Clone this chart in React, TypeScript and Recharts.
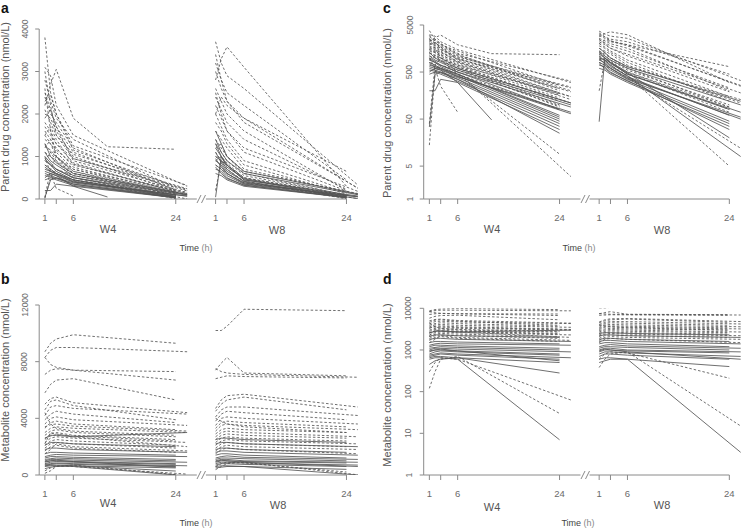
import React from 'react';
import { LineChart, Line, XAxis, YAxis, ReferenceLine } from 'recharts';

const NA = null;
// sampling hours within each visit; W8 is drawn shifted right by W8_OFFSET
const SAMPLE_HOURS = [1, 2, 3, 6, 12, 24, 26];
const W8_OFFSET = 30;
const X_MAX = 56.5;
const X_TICKS = [1, 3, 6, 24, 31, 33, 36, 54];
const X_LABELS: Record<number, string> = { 1: '1', 6: '6', 24: '24', 31: '1', 36: '6', 54: '24' };

const FONT = '"Liberation Sans", Arial, Helvetica, sans-serif';
const AXIS = '#8a8a8a';
const INK = '#555555';

type Row = (number | null)[];

// parent drug, nmol/L
const parentW4Dashed: Row[] = [
  [3800, 2500, 2000, 1250, NA, NA, 320],
  [3100, 2900, 2200, 1500, NA, NA, 300],
  [2200, 2700, 3050, 1900, 1230, 1170, NA],
  [2800, 2300, 1900, 1400, NA, 260, NA],
  [2500, 2100, 1700, 1100, NA, 220, NA],
  [2300, 2450, 2000, 1150, NA, NA, 200],
  [2000, 1900, 1600, 1000, NA, 180, NA],
  [1900, 2100, 1700, 900, NA, NA, 150],
  [1700, 1500, 1300, 850, NA, 160, NA],
  [1500, 1700, 1400, 800, NA, NA, 130],
  [1400, 1300, 1100, 700, NA, 120, NA],
  [1200, 1400, 1200, 750, NA, 140, NA],
  [1100, 1000, 900, 600, NA, 90, NA],
  [2600, 1600, 1000, 650, NA, 100, NA],
  [900, 1100, 1000, 650, NA, NA, 110],
  [800, 700, 600, 450, NA, 80, NA],
  [3000, 2200, 1500, 950, NA, NA, 230],
  [1000, 600, 250, 70, NA, NA, NA],
  [1500, 1300, 1000, 500, NA, NA, 3],
  [1300, 1100, 900, 450, NA, 9, NA],
  [14, 500, 700, 550, NA, 95, NA],
  [40, 700, 1000, 600, NA, NA, 110],
  [2100, 1800, 1500, 1050, NA, NA, 240],
  [2400, 2000, 1800, 1200, NA, 200, NA],
  [1800, 1600, 1300, 950, NA, NA, 190],
  [1250, 1150, 1000, 700, NA, NA, 150],
  [1600, 1400, 1150, 820, NA, 170, NA],
];
const parentW4Solid: Row[] = [
  [900, 800, 700, 500, NA, 80, NA],
  [700, 650, 600, 450, NA, 60, NA],
  [1100, 900, 800, 550, NA, NA, 100],
  [600, 550, 500, 380, NA, 45, NA],
  [800, 700, 600, 420, NA, 50, NA],
  [500, 600, 550, 400, NA, NA, 70],
  [34, 450, 500, 350, NA, 40, NA],
  [650, 600, 550, 300, 48, NA, NA],
  [1000, 850, 700, 500, NA, NA, 90],
  [450, 500, 450, 320, NA, 35, NA],
  [200, 200, 350, 300, NA, 30, NA],
  [750, 650, 580, 400, NA, NA, 65],
  [1300, 1000, 850, 600, NA, NA, 110],
  [550, 520, 480, 350, NA, 25, NA],
  [950, 800, 650, 450, NA, 55, NA],
];
const parentW8Dashed: Row[] = [
  [3700, 3200, 2900, 2600, NA, NA, 330],
  [2800, 3300, 3580, 3100, NA, 300, NA],
  [3400, 2800, 2500, 2200, NA, 450, NA],
  [3000, 2600, 2300, 1900, NA, NA, 250],
  [2600, 2300, 2000, 1600, NA, 200, NA],
  [2400, 2100, 1800, 1400, NA, 230, NA],
  [2200, 1900, 1600, 1200, NA, NA, 180],
  [2000, 2400, 2200, 1900, NA, 650, NA],
  [2000, 1700, 1400, 900, NA, 150, NA],
  [1800, 1600, 1300, 800, NA, 120, NA],
  [1600, 1400, 1200, 700, NA, NA, 110],
  [1400, 1200, 1000, 600, NA, 90, NA],
  [1300, 1100, 900, 550, NA, 100, NA],
  [1200, 1300, 1000, 650, NA, NA, 130],
  [1000, 900, 800, 500, NA, 80, NA],
  [900, 1000, 850, 480, NA, 70, NA],
  [1100, 900, 700, 420, NA, 5, NA],
  [800, 700, 600, 380, NA, NA, 12],
  [2500, 2000, 1600, 1100, NA, 190, NA],
  [200, 900, 800, 500, NA, 90, NA],
  [3200, 2800, 2300, 1800, NA, NA, 260],
];
const parentW8Solid: Row[] = [
  [1400, 1100, 900, 600, NA, NA, 100],
  [1200, 1000, 800, 450, NA, 80, NA],
  [1000, 900, 700, 400, NA, 60, NA],
  [900, 800, 600, 380, NA, NA, 50],
  [800, 700, 550, 350, NA, 45, NA],
  [700, 650, 500, 320, NA, 40, NA],
  [44, 1000, 800, 450, NA, NA, 70],
  [1100, 850, 650, 420, NA, NA, 8],
  [600, 550, 450, 300, NA, 35, NA],
  [1300, 1000, 750, 480, NA, 20, NA],
  [950, 750, 600, 360, NA, NA, 55],
  [750, 600, 480, 330, NA, 30, NA],
  [1600, 1300, 1000, 650, NA, NA, 120],
];

// metabolite, nmol/L
const metabW4Dashed: Row[] = [
  [8700, 9300, 9600, 9900, NA, 9300, NA],
  [8300, 8800, 9000, 9000, NA, NA, 8700],
  [8300, 7800, 7600, 7400, NA, 7300, NA],
  [7100, 7400, 7500, 7400, NA, 6700, NA],
  [5800, 6400, 6700, 6800, NA, 5300, NA],
  [5000, 5400, 5500, 5100, NA, NA, 4400],
  [4600, 5200, 5300, 4900, NA, 3900, NA],
  [4200, 4800, 4900, 4700, NA, NA, 4300],
  [3900, 4300, 4500, 4300, NA, 3700, NA],
  [3600, 4000, 4100, 3900, NA, NA, 3500],
  [3300, 3700, 3800, 3600, NA, 3200, NA],
  [3000, 3300, 3400, 3300, NA, NA, 3000],
  [2800, 3100, 3200, 3000, NA, 2700, NA],
  [2500, 2900, 3000, 2800, NA, 2500, NA],
  [2300, 2600, 2700, 2600, NA, NA, 2300],
  [2100, 2400, 2500, 2400, NA, 2100, NA],
  [1900, 2200, 2300, 2200, NA, 1900, NA],
  [4400, 3600, 3300, 3100, NA, 2800, NA],
  [2200, 3000, 2900, 2700, NA, NA, 2000],
  [120, 300, 600, 700, NA, 30, NA],
  [300, 500, 650, 600, NA, NA, 63],
  [1700, 2000, 2100, 1900, NA, 1600, NA],
  [1500, 1800, 2200, 2000, NA, NA, 1700],
  [2600, 2750, 2850, 2750, NA, 2400, NA],
  [3400, 3550, 3600, 3450, NA, NA, 3100],
];
const metabW4Solid: Row[] = [
  [1500, 1600, 1600, 1550, NA, 1400, NA],
  [1300, 1400, 1450, 1400, NA, NA, 1300],
  [1200, 1300, 1300, 1250, NA, 1100, NA],
  [1100, 1150, 1200, 1150, NA, 1000, NA],
  [1000, 1100, 1100, 1050, NA, NA, 900],
  [900, 1000, 1000, 950, NA, 800, NA],
  [800, 900, 950, 900, NA, 750, NA],
  [750, 800, 850, 800, NA, NA, 650],
  [700, 750, 800, 750, NA, 600, NA],
  [650, 700, 700, 650, NA, 500, NA],
  [600, 650, 650, 600, NA, 7, NA],
  [1800, 1900, 1900, 1800, NA, NA, 1600],
  [2100, 2300, 2300, 2200, NA, 2000, NA],
  [2600, 2800, 2800, 2700, NA, NA, 3000],
  [450, 550, 600, 650, NA, 280, NA],
  [950, 1000, 1050, 950, NA, 550, NA],
];
const metabW8Dashed: Row[] = [
  [10200, 10200, 10500, 11700, NA, 11600, NA],
  [7400, 7900, 8300, 7200, NA, 7000, NA],
  [7500, 7300, 7200, 7100, NA, NA, 6900],
  [6800, 6900, 7000, 6950, NA, 6850, NA],
  [4700, 5300, 5600, 5700, NA, NA, 4800],
  [4500, 5000, 5300, 5500, NA, 4600, NA],
  [4100, 4600, 4800, 4800, NA, NA, 4200],
  [3800, 4300, 4500, 4400, NA, 3900, NA],
  [3500, 4000, 4100, 4000, NA, NA, 3600],
  [3300, 3700, 3800, 3700, NA, 3400, NA],
  [3100, 3500, 3600, 3500, NA, NA, 3200],
  [2900, 3200, 3300, 3200, NA, 3000, NA],
  [2700, 3000, 3100, 3000, NA, NA, 2700],
  [2500, 2800, 2900, 2800, NA, 2600, NA],
  [2300, 2600, 2700, 2600, NA, 2400, NA],
  [2100, 2400, 2500, 2400, NA, NA, 2200],
  [1900, 2200, 2300, 2200, NA, 2000, NA],
  [1700, 2000, 2100, 2000, NA, NA, 1800],
  [380, 600, 800, 900, NA, NA, 15],
  [600, 800, 900, 850, NA, 210, NA],
  [4000, 3800, 3600, 3400, NA, 3000, NA],
  [1500, 1800, 1900, 1800, NA, NA, 1500],
];
const metabW8Solid: Row[] = [
  [1800, 1900, 1900, 1800, NA, 1600, NA],
  [1600, 1700, 1700, 1600, NA, NA, 1400],
  [1400, 1500, 1500, 1400, NA, 1200, NA],
  [1200, 1300, 1350, 1250, NA, NA, 1100],
  [1100, 1200, 1200, 1150, NA, 1000, NA],
  [1000, 1100, 1100, 1000, NA, NA, 900],
  [900, 1000, 1000, 950, NA, 850, NA],
  [800, 900, 900, 850, NA, NA, 700],
  [700, 800, 800, 750, NA, 600, NA],
  [600, 650, 650, 600, NA, NA, 3.5],
  [500, 550, 600, 600, NA, 400, NA],
  [2200, 2300, 2300, 2200, NA, NA, 2000],
  [2500, 2600, 2600, 2500, NA, 2300, NA],
  [950, 1050, 1000, 900, NA, NA, 600],
];

const toPoints = (row: Row, offset: number) =>
  row.flatMap((v, i) => (v == null ? [] : [{ x: SAMPLE_HOURS[i] + offset, y: v }]));

type Spec = {
  left: number;
  top: number;
  width: number;
  height: number;
  plotLeft: number;
  plotTop: number;
  plotBottom: number;
  pxPerHour: number;
  log: boolean;
  domain: [number, number];
  yTicks: number[];
  tickLabelX: number;
  sets: { rows: Row[]; offset: number; dashed: boolean }[];
};

function Panel({ spec }: { spec: Spec }) {
  const { left, top, width, height, plotLeft, plotTop, plotBottom, pxPerHour } = spec;
  const yAxisW = plotLeft - left;
  const plotW = X_MAX * pxPerHour;
  const bottom = plotBottom - top;
  const margin = { top: plotTop - top, left: 0, right: width - yAxisW - plotW, bottom: height - bottom - 30 };
  const yMin = spec.domain[0];

  const series = spec.sets.flatMap((s) => s.rows.map((r) => ({ pts: toPoints(r, s.offset), dashed: s.dashed })));

  return (
    <div style={{ position: 'absolute', left, top }}>
      <LineChart width={width} height={height} margin={margin}>
        <XAxis
          type="number"
          dataKey="x"
          domain={[0, X_MAX]}
          ticks={X_TICKS}
          interval={0}
          allowDataOverflow
          height={30}
          axisLine={false}
          tickSize={5}
          tickLine={{ stroke: AXIS }}
          tick={(p: any) => (
            <text x={p.x} y={bottom + 22} textAnchor="middle" fontSize={9.5} fill="#6a6a6a" fontFamily={FONT}>
              {X_LABELS[p.payload.value] ?? ''}
            </text>
          )}
        />
        <YAxis
          type="number"
          scale={spec.log ? 'log' : 'linear'}
          domain={spec.domain}
          ticks={spec.yTicks}
          interval={0}
          allowDataOverflow
          width={yAxisW}
          tickSize={4}
          axisLine={{ stroke: AXIS }}
          tickLine={{ stroke: AXIS }}
          tick={(p: any) => (
            <text
              x={spec.tickLabelX}
              y={p.y}
              transform={`rotate(-90 ${spec.tickLabelX} ${p.y})`}
              textAnchor="middle"
              fontSize={8.5}
              fill="#6a6a6a"
              fontFamily={FONT}
            >
              {p.payload.value}
            </text>
          )}
        />
        <ReferenceLine segment={[{ x: 0, y: yMin }, { x: 27.7, y: yMin }]} stroke={AXIS} ifOverflow="visible" />
        <ReferenceLine
          segment={[{ x: 29.3, y: yMin }, { x: 24 + W8_OFFSET, y: yMin }]}
          stroke={AXIS}
          ifOverflow="visible"
        />
        {series.map((s, i) => (
          <Line
            key={i}
            data={s.pts}
            dataKey="y"
            type="linear"
            stroke={INK}
            strokeWidth={0.85}
            strokeDasharray={s.dashed ? '2.5 2' : undefined}
            dot={false}
            activeDot={false}
            isAnimationActive={false}
          />
        ))}
      </LineChart>
    </div>
  );
}

const parentSets = [
  { rows: parentW4Dashed, offset: 0, dashed: true },
  { rows: parentW4Solid, offset: 0, dashed: false },
  { rows: parentW8Dashed, offset: W8_OFFSET, dashed: true },
  { rows: parentW8Solid, offset: W8_OFFSET, dashed: false },
];
const metabSets = [
  { rows: metabW4Dashed, offset: 0, dashed: true },
  { rows: metabW4Solid, offset: 0, dashed: false },
  { rows: metabW8Dashed, offset: W8_OFFSET, dashed: true },
  { rows: metabW8Solid, offset: W8_OFFSET, dashed: false },
];

const specs: Spec[] = [
  {
    left: 0, top: 0, width: 372, height: 262,
    plotLeft: 39.2, plotTop: 29, plotBottom: 199, pxPerHour: 5.69,
    log: false, domain: [0, 4000], yTicks: [0, 1000, 2000, 3000, 4000], tickLabelX: 27.5,
    sets: parentSets,
  },
  {
    left: 0, top: 262, width: 372, height: 267,
    plotLeft: 39.2, plotTop: 305, plotBottom: 475, pxPerHour: 5.69,
    log: false, domain: [0, 12000], yTicks: [0, 4000, 8000, 12000], tickLabelX: 27.5,
    sets: metabSets,
  },
  {
    left: 380, top: 0, width: 367, height: 262,
    plotLeft: 423.7, plotTop: 25, plotBottom: 199, pxPerHour: 5.66,
    log: true, domain: [1, 5000], yTicks: [1, 5, 50, 500, 5000], tickLabelX: 32.5,
    sets: parentSets,
  },
  {
    left: 380, top: 262, width: 367, height: 267,
    plotLeft: 423.7, plotTop: 308.3, plotBottom: 475, pxPerHour: 5.66,
    log: true, domain: [1, 10000], yTicks: [1, 10, 100, 1000, 10000], tickLabelX: 31.5,
    sets: metabSets,
  },
];

const Slashes = ({ x, y }: { x: number; y: number }) => (
  <g stroke={AXIS} strokeWidth={1}>
    <line x1={x} y1={y + 4} x2={x + 4} y2={y - 4} />
    <line x1={x + 4.5} y1={y + 4} x2={x + 8.5} y2={y - 4} />
  </g>
);

const VTitle = ({ x, y, text }: { x: number; y: number; text: string }) => (
  <text x={x} y={y} transform={`rotate(-90 ${x} ${y})`} textAnchor="middle" fontSize={11} fill="#555" fontFamily={FONT}>
    {text}
  </text>
);

const Small = ({ x, y, text, size = 11 }: { x: number; y: number; text: string; size?: number }) => (
  <text x={x} y={y} textAnchor="middle" fontSize={size} fill="#555" fontFamily={FONT}>
    {text}
  </text>
);

const TimeLabel = ({ x, y }: { x: number; y: number }) => (
  <text x={x} y={y} textAnchor="middle" fontSize={9} fill="#444" fontFamily={FONT}>
    Time <tspan fill="#888">(h)</tspan>
  </text>
);

const Letter = ({ x, y, text }: { x: number; y: number; text: string }) => (
  <text x={x} y={y} fontSize={14} fontWeight="bold" fill="#111" fontFamily={FONT}>
    {text}
  </text>
);

export default function App() {
  return (
    <div style={{ position: 'absolute', left: 0, top: 0, width: 747, height: 529, background: '#fff' }}>
      {specs.map((s, i) => (
        <Panel key={i} spec={s} />
      ))}
      <svg width={747} height={529} style={{ position: 'absolute', left: 0, top: 0, pointerEvents: 'none' }}>
        <Letter x={1} y={13} text="a" />
        <Letter x={1} y={284} text="b" />
        <Letter x={383} y={13} text="c" />
        <Letter x={383} y={284} text="d" />

        <VTitle x={9} y={107} text="Parent drug concentration (nmol/L)" />
        <VTitle x={9} y={380} text="Metabolite concentration (nmol/L)" />
        <VTitle x={391} y={113} text="Parent drug concentration (nmol/L)" />
        <VTitle x={391} y={385} text="Metabolite concentration (nmol/L)" />

        <Slashes x={197} y={199} />
        <Slashes x={197} y={475} />
        <Slashes x={581} y={199} />
        <Slashes x={581} y={475} />

        <Small x={108} y={233} text="W4" />
        <Small x={277} y={234} text="W8" />
        <Small x={108} y={507} text="W4" />
        <Small x={278} y={509} text="W8" />
        <Small x={492} y={233} text="W4" />
        <Small x={662} y={234} text="W8" />
        <Small x={492} y={511} text="W4" />
        <Small x={662} y={509} text="W8" />

        <TimeLabel x={196} y={251} />
        <TimeLabel x={196} y={526} />
        <TimeLabel x={579} y={251} />
        <TimeLabel x={578} y={526} />
      </svg>
    </div>
  );
}
